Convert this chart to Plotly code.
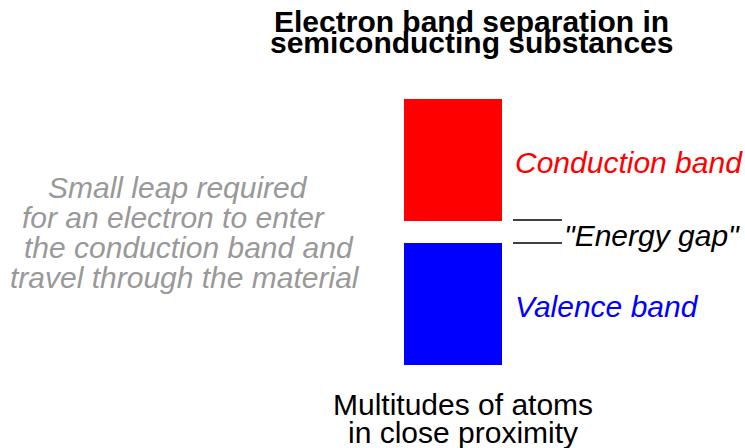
import plotly.graph_objects as go

# Data (diagram coordinates: x across, y = drawing units, top = 0)
band_names = ["Conduction band", "Valence band"]
band_top = [99, 243]
band_bottom = [221, 365]
band_colors = ["#ff0000", "#0000ff"]
gap_label = '"Energy gap"'
title_lines = ["Electron band separation in", "semiconducting substances"]
note_lines = ["Small leap required", "for an electron to enter", "the conduction band and", "travel through the material"]
caption_lines = ["Multitudes of atoms", "in close proximity"]

FONT = "Liberation Sans, Arial, sans-serif"
fig = go.Figure()

band_x = 453
band_w = 98
for name, top, bot, col in zip(band_names, band_top, band_bottom, band_colors):
    fig.add_trace(go.Bar(x=[band_x], y=[bot - top], base=[top], width=[band_w],
                         marker=dict(color=col, line=dict(width=0)), name=name,
                         showlegend=False, hoverinfo="skip"))

# gap marker lines at band edges
for yv in [band_bottom[0] - 1, band_top[1]]:
    fig.add_trace(go.Scatter(x=[513, 562], y=[yv, yv], mode="lines",
                             line=dict(color="black", width=1.5),
                             showlegend=False, hoverinfo="skip"))

ann = []
title_y = [21, 42]
for i, t in enumerate(title_lines):
    ann.append(dict(x=471, y=title_y[i], text="<b>%s</b>" % t, showarrow=False,
                    xanchor="center", yanchor="middle",
                    font=dict(family=FONT, size=30, color="black")))
note_x = [46, 20, 22, 8]
for i, t in enumerate(note_lines):
    ann.append(dict(x=note_x[i], y=187 + i * 30, text="<i>%s</i>" % t, showarrow=False,
                    xanchor="left", yanchor="middle",
                    font=dict(family=FONT, size=30, color="#999999")))
ann.append(dict(x=513, y=162, text="<i>%s</i>" % band_names[0], showarrow=False,
                xanchor="left", yanchor="middle",
                font=dict(family=FONT, size=30, color=band_colors[0])))
ann.append(dict(x=513, y=306, text="<i>%s</i>" % band_names[1], showarrow=False,
                xanchor="left", yanchor="middle",
                font=dict(family=FONT, size=30, color=band_colors[1])))
ann.append(dict(x=562, y=235, text="<i>%s</i>" % gap_label, showarrow=False,
                xanchor="left", yanchor="middle",
                font=dict(family=FONT, size=30, color="black")))
caption_y = [404, 432]
for i, t in enumerate(caption_lines):
    ann.append(dict(x=463, y=caption_y[i], text=t, showarrow=False,
                    xanchor="center", yanchor="middle",
                    font=dict(family=FONT, size=30, color="black")))

fig.update_layout(
    width=745, height=448, margin=dict(l=0, r=0, t=0, b=0),
    paper_bgcolor="white", plot_bgcolor="white",
    xaxis=dict(range=[0, 745], visible=False, fixedrange=True),
    yaxis=dict(range=[448, 0], visible=False, fixedrange=True),
    annotations=ann, bargap=0,
)
fig.write_html("out.html", config={"displayModeBar": False})

# remove default page margin so the figure starts at the window corner
with open("out.html", encoding="utf-8") as f:
    html = f.read()
html = html.replace("<head>", "<head><style>html,body{margin:0;padding:0;overflow:hidden;}</style>", 1)
with open("out.html", "w", encoding="utf-8") as f:
    f.write(html)
